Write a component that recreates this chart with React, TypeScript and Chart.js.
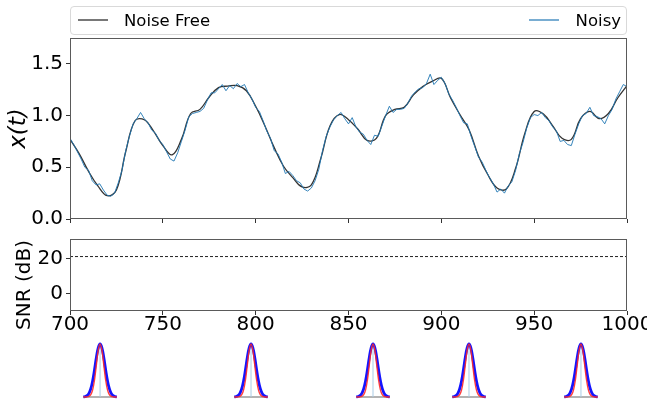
import React, { useEffect, useRef } from 'react';
import { Chart, registerables } from 'chart.js';
Chart.register(...registerables);

const FONT = '"DejaVu Sans", sans-serif';

// Noise-free signal, sampled every 5 time units
const cleanTimes = [
  700, 705, 710, 715, 720, 725, 730, 735, 740, 745,
  750, 755, 760, 765, 770, 775, 780, 785, 790, 795,
  800, 805, 810, 815, 820, 825, 830, 835, 840, 845,
  850, 855, 860, 865, 870, 875, 880, 885, 890, 895,
  900, 905, 910, 915, 920, 925, 930, 935, 940, 945,
  950, 955, 960, 965, 970, 975, 980, 985, 990, 995,
  1000,
];
const cleanValues = [
  0.77, 0.63, 0.46, 0.32, 0.225, 0.28, 0.65, 0.95, 0.96, 0.85,
  0.71, 0.62, 0.77, 1.02, 1.06, 1.18, 1.27, 1.285, 1.29, 1.24,
  1.09, 0.9, 0.69, 0.51, 0.4, 0.31, 0.33, 0.58, 0.9, 1.01,
  0.96, 0.87, 0.76, 0.78, 1.0, 1.06, 1.08, 1.2, 1.28, 1.33,
  1.36, 1.17, 1.01, 0.86, 0.61, 0.43, 0.3, 0.29, 0.49, 0.83,
  1.04, 1.015, 0.9, 0.78, 0.77, 0.97, 1.04, 0.97, 1.02, 1.17,
  1.29,
];

// Noisy signal, sampled every 2 time units starting at 700
const noisyStart = 700;
const noisyStep = 2;
const noisyValues = [
  0.78, 0.72, 0.65, 0.58, 0.5, 0.47, 0.37, 0.33, 0.34, 0.28,
  0.23, 0.22, 0.25, 0.35, 0.47, 0.66, 0.8, 0.92, 0.97, 1.03,
  0.97, 0.93, 0.86, 0.83, 0.76, 0.72, 0.65, 0.58, 0.56, 0.64,
  0.75, 0.86, 0.99, 1.02, 1.03, 1.04, 1.07, 1.15, 1.22, 1.22,
  1.26, 1.3, 1.24, 1.29, 1.26, 1.31, 1.28, 1.3, 1.22, 1.16,
  1.08, 1.04, 0.95, 0.85, 0.78, 0.66, 0.63, 0.55, 0.44, 0.46,
  0.42, 0.37, 0.35, 0.29, 0.27, 0.3, 0.37, 0.48, 0.66, 0.8,
  0.89, 0.96, 1.0, 1.03, 0.97, 0.92, 0.98, 0.89, 0.84, 0.82,
  0.76, 0.72, 0.81, 0.8, 0.9, 1.0, 1.09, 1.03, 1.06, 1.06,
  1.07, 1.12, 1.19, 1.23, 1.26, 1.27, 1.31, 1.4, 1.3, 1.34,
  1.37, 1.31, 1.21, 1.15, 1.08, 1.0, 0.93, 0.92, 0.8, 0.7,
  0.6, 0.55, 0.47, 0.4, 0.34, 0.26, 0.29, 0.25, 0.32, 0.36,
  0.47, 0.63, 0.74, 0.88, 0.98, 1.01, 1.0, 1.03, 0.98, 0.95,
  0.89, 0.85, 0.75, 0.76, 0.72, 0.71, 0.82, 0.92, 1.0, 1.02,
  1.08, 1.0, 0.99, 0.97, 0.92, 1.0, 1.06, 1.16, 1.23, 1.3,
  1.28,
];

// SNR panel
const snrTimes = [700, 1000];
const snrValues = [21, 21];

// Tick labels
const xTicks = [700, 750, 800, 850, 900, 950, 1000];
const signalTicks = [0, 0.5, 1.0, 1.5];
const snrTicks = [0, 20];

// Pulses drawn under the time axis
const pulseCenters = [716.2, 797.5, 863.2, 914.9, 975.2];
const pulseOffsets = [-9, -8, -7, -6, -5, -4, -3, -2, -1, 0, 1, 2, 3, 4, 5, 6, 7, 8, 9];
const wideShape = [0.0025, 0.009, 0.027, 0.07, 0.157, 0.306, 0.514, 0.744, 0.929, 1, 0.929, 0.744, 0.514, 0.306, 0.157, 0.07, 0.027, 0.009, 0.0025];
const narrowShape = [0, 0, 0.002, 0.011, 0.044, 0.135, 0.325, 0.607, 0.882, 1, 0.882, 0.607, 0.325, 0.135, 0.044, 0.011, 0.002, 0, 0];

const CLEAN_COLOR = 'rgba(15,15,15,0.85)';
const NOISY_COLOR = 'rgba(31,119,180,0.9)';
const TICK_SIZE = 20;

const framePlugin = {
  id: 'frame',
  afterDraw(chart: any) {
    const { ctx, chartArea: a } = chart;
    ctx.save();
    ctx.strokeStyle = '#5a5a5a';
    ctx.lineWidth = 1;
    const l = Math.round(a.left) + 0.5;
    const t = Math.round(a.top) + 0.5;
    const r = Math.round(a.right) - 0.5;
    const b = Math.round(a.bottom) - 0.5;
    ctx.strokeRect(l, t, r - l, b - t);
    ctx.restore();
  },
};

const snrLabelPlugin = {
  id: 'snrLabel',
  afterDraw(chart: any) {
    const { ctx } = chart;
    ctx.save();
    ctx.translate(25, 53);
    ctx.rotate(-Math.PI / 2);
    ctx.font = '20px ' + FONT;
    ctx.fillStyle = '#000';
    ctx.textAlign = 'center';
    ctx.textBaseline = 'middle';
    ctx.fillText('SNR (dB)', 0, 0);
    ctx.restore();
  },
};

const tickGrid = {
  drawOnChartArea: false,
  drawTicks: true,
  tickLength: 4,
  color: '#333',
  lineWidth: 1,
};

function fixY(width: number) {
  return (s: any) => {
    s.width = width;
    s.paddingTop = 0;
    s.paddingBottom = 0;
  };
}
function fixX(height: number) {
  return (s: any) => {
    s.height = height;
    s.paddingLeft = 0;
    s.paddingRight = 0;
  };
}

export default function App() {
  const topRef = useRef<HTMLCanvasElement>(null);
  const snrRef = useRef<HTMLCanvasElement>(null);
  const pulseRef = useRef<HTMLCanvasElement>(null);

  useEffect(() => {
    const noisyData = noisyValues.map((v, i) => ({ x: noisyStart + i * noisyStep, y: v }));
    const cleanData = cleanValues.map((v, i) => ({ x: cleanTimes[i], y: v }));

    const top = new Chart(topRef.current as HTMLCanvasElement, {
      type: 'line',
      data: {
        datasets: [
          {
            label: 'Noisy',
            data: noisyData,
            borderColor: NOISY_COLOR,
            borderWidth: 1,
            pointRadius: 0,
            tension: 0,
            order: 0,
          },
          {
            label: 'Noise Free',
            data: cleanData,
            borderColor: CLEAN_COLOR,
            borderWidth: 1.3,
            pointRadius: 0,
            tension: 0.4,
            order: 1,
          },
        ],
      },
      options: {
        animation: false,
        responsive: false,
        maintainAspectRatio: false,
        events: [],
        layout: { padding: { left: 0, right: 20, top: 38, bottom: 3 } },
        plugins: { legend: { display: false }, tooltip: { enabled: false } },
        scales: {
          x: {
            type: 'linear',
            min: 700,
            max: 1000,
            afterBuildTicks: (s: any) => {
              s.ticks = xTicks.map((v) => ({ value: v }));
            },
            ticks: { display: false },
            grid: tickGrid,
            border: { display: false },
            afterFit: fixX(10),
          },
          y: {
            type: 'linear',
            min: 0,
            max: 1.75,
            afterBuildTicks: (s: any) => {
              s.ticks = signalTicks.map((v) => ({ value: v }));
            },
            ticks: {
              color: '#000',
              padding: 3,
              font: { family: FONT, size: TICK_SIZE },
              callback: (v: any) => Number(v).toFixed(1),
            },
            grid: tickGrid,
            border: { display: false },
            title: {
              display: true,
              text: 'x(t)',
              color: '#000',
              font: { family: FONT, size: 23, style: 'italic' },
              padding: { top: 5, bottom: 0 },
            },
            afterFit: fixY(70),
          },
        },
      } as any,
      plugins: [framePlugin],
    });

    const snr = new Chart(snrRef.current as HTMLCanvasElement, {
      type: 'line',
      data: {
        datasets: [
          {
            label: 'SNR',
            data: snrValues.map((v, i) => ({ x: snrTimes[i], y: v })),
            borderColor: '#222',
            borderWidth: 1,
            borderDash: [3, 2],
            pointRadius: 0,
          },
        ],
      },
      options: {
        animation: false,
        responsive: false,
        maintainAspectRatio: false,
        events: [],
        layout: { padding: { left: 0, right: 20, top: 7, bottom: 0 } },
        plugins: { legend: { display: false }, tooltip: { enabled: false } },
        scales: {
          x: {
            type: 'linear',
            min: 700,
            max: 1000,
            afterBuildTicks: (s: any) => {
              s.ticks = xTicks.map((v) => ({ value: v }));
            },
            ticks: {
              color: '#000',
              padding: -2,
              maxRotation: 0,
              autoSkip: false,
              font: { family: FONT, size: TICK_SIZE },
              callback: (v: any) => String(v),
            },
            grid: tickGrid,
            border: { display: false },
            afterFit: fixX(26),
          },
          y: {
            type: 'linear',
            min: -10,
            max: 31,
            afterBuildTicks: (s: any) => {
              s.ticks = snrTicks.map((v) => ({ value: v }));
            },
            ticks: {
              color: '#000',
              padding: 3,
              font: { family: FONT, size: TICK_SIZE },
              callback: (v: any) => String(v),
            },
            grid: tickGrid,
            border: { display: false },
            afterFit: fixY(70),
          },
        },
      } as any,
      plugins: [framePlugin, snrLabelPlugin],
    });

    const pulseDatasets: any[] = [];
    pulseCenters.forEach((c) => {
      pulseDatasets.push({
        data: [{ x: c - 9, y: 0 }, { x: c + 9, y: 0 }],
        borderColor: '#b3b3b3',
        borderWidth: 2,
        pointRadius: 0,
        order: 4,
      });
      pulseDatasets.push({
        data: [{ x: c, y: 0 }, { x: c, y: 1 }],
        borderColor: '#a9cbe6',
        borderWidth: 1,
        pointRadius: 0,
        order: 3,
      });
      pulseDatasets.push({
        data: pulseOffsets.map((o, i) => ({ x: c + o, y: wideShape[i] })),
        borderColor: '#1414ff',
        borderWidth: 2.8,
        pointRadius: 0,
        tension: 0.4,
        order: 2,
      });
      pulseDatasets.push({
        data: pulseOffsets.map((o, i) => ({ x: c + o, y: narrowShape[i] })),
        borderColor: 'rgba(255,40,40,0.9)',
        borderWidth: 1.4,
        pointRadius: 0,
        tension: 0.4,
        order: 1,
      });
    });

    const pulses = new Chart(pulseRef.current as HTMLCanvasElement, {
      type: 'line',
      data: { datasets: pulseDatasets },
      options: {
        animation: false,
        responsive: false,
        maintainAspectRatio: false,
        events: [],
        clip: false,
        layout: { padding: { left: 70, right: 20, top: 7, bottom: 4 } },
        plugins: { legend: { display: false }, tooltip: { enabled: false } },
        scales: {
          x: { type: 'linear', min: 700, max: 1000, display: false },
          y: { type: 'linear', min: 0, max: 1, display: false },
        },
      } as any,
    });

    return () => {
      top.destroy();
      snr.destroy();
      pulses.destroy();
    };
  }, []);

  const legendText: React.CSSProperties = {
    position: 'absolute',
    top: 0,
    lineHeight: '27px',
    fontFamily: FONT,
    fontSize: 16.5,
    color: '#000',
    whiteSpace: 'nowrap',
  };

  return (
    <div
      style={{
        position: 'fixed',
        left: 0,
        top: 0,
        width: 647,
        height: 401,
        background: '#fff',
        overflow: 'hidden',
      }}
    >
      <canvas ref={topRef} width={647} height={232} style={{ position: 'absolute', left: 0, top: 0 }} />
      <canvas ref={snrRef} width={647} height={105} style={{ position: 'absolute', left: 0, top: 232 }} />
      <canvas ref={pulseRef} width={647} height={64} style={{ position: 'absolute', left: 0, top: 337 }} />
      <div
        style={{
          position: 'absolute',
          left: 70,
          top: 6,
          width: 557,
          height: 29,
          boxSizing: 'border-box',
          border: '1px solid #d9d9d9',
          borderRadius: 4,
          background: '#fff',
        }}
      >
        <div style={{ position: 'absolute', left: 7, top: 12, width: 30, height: 1.5, background: 'rgba(30,30,30,0.6)' }} />
        <span style={{ ...legendText, left: 53 }}>Noise Free</span>
        <div style={{ position: 'absolute', left: 458, top: 12, width: 30, height: 1.5, background: 'rgba(31,119,180,0.6)' }} />
        <span style={{ ...legendText, right: 5 }}>Noisy</span>
      </div>
    </div>
  );
}
